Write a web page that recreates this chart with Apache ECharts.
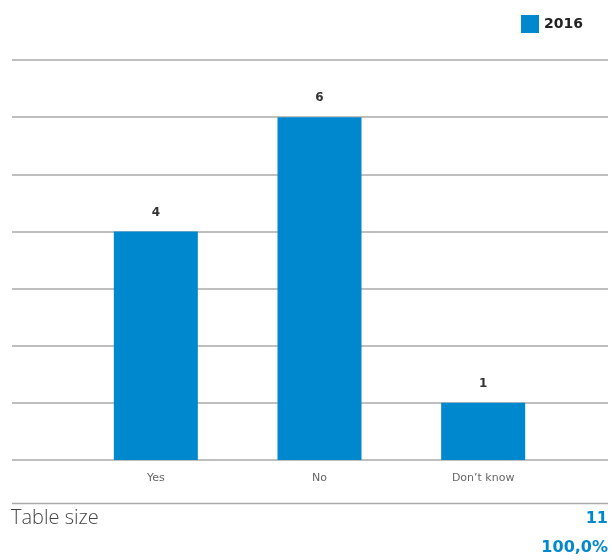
<!DOCTYPE html>
<html><head><meta charset="utf-8">
<script src="https://cdn.jsdelivr.net/npm/echarts@6/dist/echarts.min.js"></script>
<style>html,body{margin:0;padding:0;background:#fff}#c{width:612px;height:560px}</style>
</head><body><div id="c"></div>
<script>
const categories = ['Yes', 'No', "Don\u2019t know"];
const seriesName = '2016';
const values = [4, 6, 1];
const tableSizeLabel = 'Table size';
const tableSizeValue = '11';
const tableSizePct = '100,0%';

const blue = '#0088cf';
const ff = 'DejaVu Sans, sans-serif';
const chart = echarts.init(document.getElementById('c'));
chart.setOption({
  animation: false,
  textStyle: { fontFamily: ff },
  legend: {
    right: 24, top: 10, itemWidth: 18, itemHeight: 18, itemGap: 8,
    icon: 'rect',
    textStyle: { fontSize: 14, fontWeight: 'bold', color: '#222', fontFamily: ff },
    data: [seriesName]
  },
  grid: [
    { left: 12, right: 4, top: 60, bottom: 100 },
    { left: 74, right: 47, top: 60, bottom: 100 }
  ],
  xAxis: [
    { gridIndex: 0, type: 'category', data: categories, show: false },
    { gridIndex: 1, type: 'category', data: categories,
      axisLine: { show: false }, axisTick: { show: false },
      axisLabel: { fontSize: 11, color: '#666', margin: 13, fontFamily: ff } }
  ],
  yAxis: [
    { gridIndex: 0, type: 'value', min: 0, max: 7, interval: 1,
      axisLabel: { show: false }, axisTick: { show: false },
      axisLine: { show: false },
      splitLine: { lineStyle: { color: '#aaaaaa', width: 1.5 } } },
    { gridIndex: 1, type: 'value', min: 0, max: 7, interval: 1, show: false,
      splitLine: { show: false } }
  ],
  series: [{
    name: seriesName, type: 'bar', xAxisIndex: 1, yAxisIndex: 1,
    data: values, barWidth: 84,
    itemStyle: { color: blue },
    label: { show: true, position: 'top', distance: 13,
      fontSize: 12, fontWeight: 'bold', color: '#333', fontFamily: ff }
  }],
  graphic: [
    { type: 'line', shape: { x1: 12, y1: 503.5, x2: 608, y2: 503.5 },
      style: { stroke: '#aaaaaa', lineWidth: 1.5 } },
    { type: 'text', left: 11, top: 508,
      style: { text: tableSizeLabel, fontSize: 20, fontWeight: 300, fill: '#444', fontFamily: 'Open Sans, sans-serif' } },
    { type: 'text', right: 4, top: 511,
      style: { text: tableSizeValue, fontSize: 16, fontWeight: 'bold', fill: blue, textAlign: 'right', fontFamily: ff } },
    { type: 'text', right: 4, top: 540,
      style: { text: tableSizePct, fontSize: 16, fontWeight: 'bold', fill: blue, textAlign: 'right', fontFamily: ff } }
  ]
});
</script></body></html>
